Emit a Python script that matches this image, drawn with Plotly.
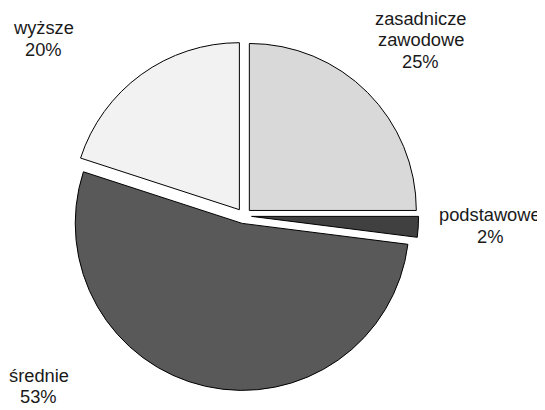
import plotly.graph_objects as go

# education level shares
labels = ["zasadnicze zawodowe", "podstawowe", "średnie", "wyższe"]
label_lines = [["zasadnicze", "zawodowe"], ["podstawowe"], ["średnie"], ["wyższe"]]
values = [25, 2, 53, 20]
colors = ["#d9d9d9", "#404040", "#595959", "#f2f2f2"]

# the page body has an 8px margin, so the figure is drawn a bit smaller
W, H, OFF = 537, 402, 8

# label centres (px in the 545x410 window) of the first line, and line gap
label_px = [(420.5, 18.0), (490.0, 214.5), (38.7, 375.0), (43.0, 27.5)]
LINE_GAP = 21.7

total = sum(values)

fig = go.Figure(
    go.Pie(
        labels=labels,
        values=values,
        sort=False,
        direction="clockwise",
        rotation=0,
        pull=[0.046] * len(values),
        marker=dict(colors=colors, line=dict(color="#000000", width=1)),
        textinfo="none",
        hoverinfo="label+percent",
        showlegend=False,
        domain=dict(x=[0.1140, 0.7646], y=[0.0483, 0.9174]),
    )
)

for lines, v, (px, py) in zip(label_lines, values, label_px):
    rows = lines + [f"{round(100 * v / total)}%"]
    for k, row in enumerate(rows):
        fig.add_annotation(
            x=(px - OFF) / W,
            y=1 - (py + k * LINE_GAP - OFF) / H,
            xref="paper",
            yref="paper",
            text=row,
            showarrow=False,
            xanchor="center",
            yanchor="middle",
            font=dict(family="Liberation Sans, Arial", size=18.3, color="#1a1a1a"),
        )

fig.update_layout(
    width=W,
    height=H,
    margin=dict(l=0, r=0, t=0, b=0),
    paper_bgcolor="white",
    plot_bgcolor="white",
)

fig.write_html("out.html")
